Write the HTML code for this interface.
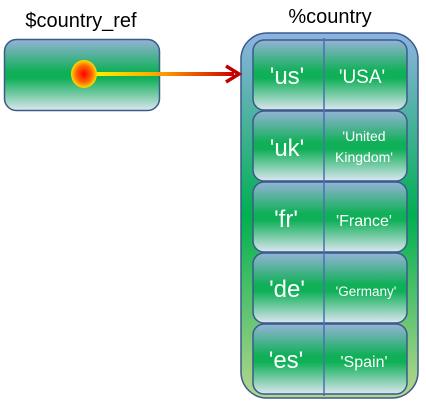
<!DOCTYPE html>
<html><head><meta charset="utf-8"><style>
html,body{margin:0;padding:0;background:#fff;}
svg{display:block;font-family:"Liberation Sans","DejaVu Sans",sans-serif;}
</style></head><body>
<svg width="426" height="405" viewBox="0 0 426 405" xmlns="http://www.w3.org/2000/svg">
<defs>
<linearGradient id="g" x1="0" y1="0" x2="0" y2="1">
<stop offset="0" stop-color="#95b3d7"/>
<stop offset="0.45" stop-color="#10b058"/>
<stop offset="0.55" stop-color="#10b058"/>
<stop offset="1" stop-color="#dce6f0"/>
</linearGradient>
<linearGradient id="go" x1="0" y1="0" x2="0" y2="1">
<stop offset="0" stop-color="#8db3e2"/>
<stop offset="0.5" stop-color="#00b050"/>
<stop offset="1" stop-color="#b6d68e"/>
</linearGradient>
<linearGradient id="ln" x1="0" y1="0" x2="1" y2="0">
<stop offset="0" stop-color="#ffee00"/>
<stop offset="0.5" stop-color="#ff9900"/>
<stop offset="1" stop-color="#cc0000"/>
</linearGradient>
<radialGradient id="dot">
<stop offset="0" stop-color="#ff0000"/>
<stop offset="0.6" stop-color="#ff6600"/>
<stop offset="1" stop-color="#ffdd00"/>
</radialGradient>
</defs>
<text x="81" y="27" font-size="20" text-anchor="middle" fill="#000">$country_ref</text>
<text x="330" y="23" font-size="20" text-anchor="middle" fill="#000">%country</text>
<rect x="4.5" y="39.5" width="155" height="71" rx="12" fill="url(#g)" stroke="#3a5a8a" stroke-width="1.5"/>
<rect x="241" y="33" width="177" height="365" rx="26" fill="url(#go)" stroke="#3a5a8a" stroke-width="1.5"/>
<g stroke="#3a5a8a" stroke-width="1.5" fill="url(#g)">
<rect x="253" y="40" width="154" height="70" rx="11"/>
<rect x="253" y="111" width="154" height="70" rx="11"/>
<rect x="253" y="182" width="154" height="70" rx="11"/>
<rect x="253" y="253" width="154" height="70" rx="11"/>
<rect x="253" y="324" width="154" height="70" rx="11"/>
</g>
<line x1="324" y1="38" x2="324" y2="396" stroke="#4a70b0" stroke-width="1.5"/>
<rect x="96" y="72" width="138" height="4" fill="url(#ln)"/>
<path d="M226 66 L239 74 L226 82" fill="none" stroke="#c00000" stroke-width="3.5"/>
<ellipse cx="84" cy="74" rx="13" ry="14" fill="url(#dot)"/>
<g fill="#fff" text-anchor="middle">
<text x="287" y="84" font-size="24">'us'</text>
<text x="287" y="156" font-size="24">'uk'</text>
<text x="286" y="227" font-size="24">'fr'</text>
<text x="287" y="297" font-size="24">'de'</text>
<text x="286" y="368" font-size="24">'es'</text>
<text x="362" y="83" font-size="19">'USA'</text>
<text x="364" y="141" font-size="14">'United</text>
<text x="364" y="162" font-size="14">Kingdom'</text>
<text x="364" y="226" font-size="16">'France'</text>
<text x="366" y="296" font-size="13.5">'Germany'</text>
<text x="364" y="367" font-size="16">'Spain'</text>
</g>
</svg>
</body></html>
